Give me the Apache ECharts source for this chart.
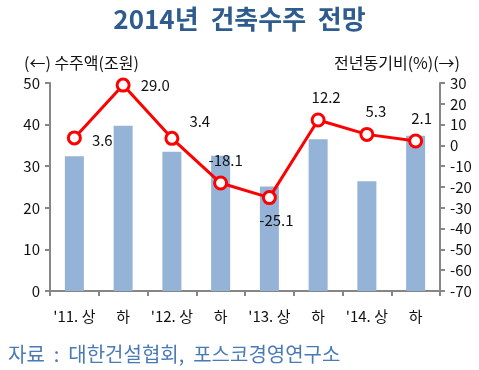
<!DOCTYPE html>
<html><head><meta charset="utf-8">
<script src="https://cdn.jsdelivr.net/npm/echarts@6/dist/echarts.min.js"></script>
<style>html,body{margin:0;padding:0;background:#fff}#c{width:479px;height:370px}</style>
</head><body><div id="c"></div>
<script>
const categories = ["'11. 상", "하", "'12. 상", "하", "'13. 상", "하", "'14. 상", "하"];
const orders = [32.4, 39.7, 33.5, 32.5, 25.1, 36.5, 26.4, 37.3];
const yoy = [3.6, 29.0, 3.4, -18.1, -25.1, 12.2, 5.3, 2.1];
const labelPos = ['right', 'right', 'right', 'top', 'bottom', 'top', 'top', 'top'];
const labelOffset = [[2, 2], [2, 0], [2, -17], [5, 0], [7, 0], [8, 0], [9, 0], [6, 0]];

const font = '"Noto Sans CJK KR", "Noto Sans", sans-serif';
const chart = echarts.init(document.getElementById('c'));
chart.setOption({
  animation: false,
  textStyle: { fontFamily: font },
  title: [
    { text: '2014년  건축수주  전망', left: 'center', top: 1,
      textStyle: { fontFamily: font, fontSize: 26, fontWeight: 'bold', color: '#2F5C8E' } },
    { text: '자료  :  대한건설협회,  포스코경영연구소', left: 3, top: 339,
      textStyle: { fontFamily: font, fontSize: 20, fontWeight: 'normal', color: '#4A7AB5' } },
    { text: '(←) 수주액(조원)', left: 19, top: 50,
      textStyle: { fontFamily: font, fontSize: 16, fontWeight: 'normal', color: '#111' } },
    { text: '전년동기비(%)(→)', right: 14, top: 50,
      textStyle: { fontFamily: font, fontSize: 16, fontWeight: 'normal', color: '#111' } }
  ],
  grid: { left: 50, right: 39, top: 83, bottom: 79 },
  xAxis: {
    type: 'category', data: categories,
    axisLine: { lineStyle: { color: '#868686', width: 2 } },
    axisTick: { show: true, interval: 0, length: 5, lineStyle: { color: '#868686', width: 2 } },
    axisLabel: { color: '#111', fontSize: 15, margin: 18, interval: 0, fontFamily: font }
  },
  yAxis: [
    { type: 'value', min: 0, max: 50, interval: 10,
      axisLine: { show: true, lineStyle: { color: '#868686', width: 2 } },
      axisTick: { show: true, length: 5, lineStyle: { color: '#868686', width: 2 } },
      splitLine: { show: false },
      axisLabel: { color: '#111', fontSize: 15, margin: 10, fontFamily: font } },
    { type: 'value', min: -70, max: 30, interval: 10, position: 'right',
      axisLine: { show: true, lineStyle: { color: '#868686', width: 2 } },
      axisTick: { show: true, length: 5, lineStyle: { color: '#868686', width: 2 } },
      splitLine: { show: false },
      axisLabel: { color: '#111', fontSize: 15, margin: 10, fontFamily: font } }
  ],
  series: [
    { type: 'bar', data: orders, barWidth: 19, yAxisIndex: 0,
      itemStyle: { color: '#95B3D7' } },
    { type: 'line', yAxisIndex: 1, symbol: 'circle', symbolSize: 12,
      data: yoy.map((v, i) => ({ value: v,
        label: { position: labelPos[i], offset: labelOffset[i] } })),
      lineStyle: { color: '#FF0000', width: 3 },
      itemStyle: { color: '#fff', borderColor: '#FF0000', borderWidth: 3 },
      label: { show: true, fontSize: 15, color: '#111', distance: 8, fontFamily: font,
        formatter: p => p.value.toFixed(1) },
      z: 5 }
  ]
});
</script></body></html>
